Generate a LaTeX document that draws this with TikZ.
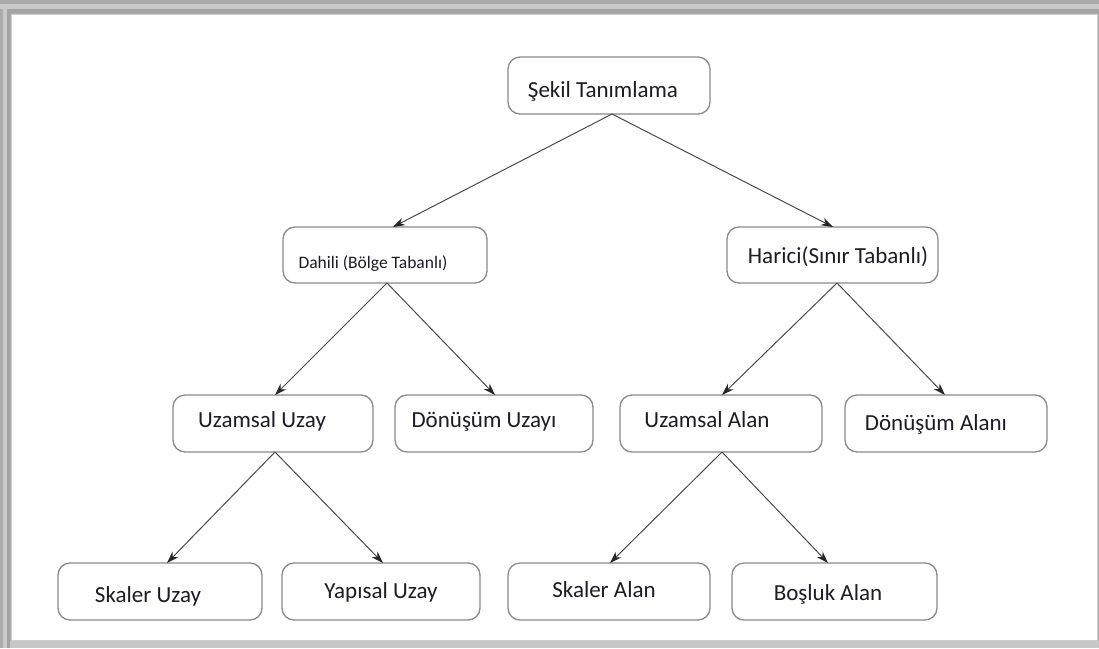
\documentclass[tikz,border=0pt]{standalone}
\usepackage{fontspec}
\setmainfont{Carlito}
\usetikzlibrary{arrows.meta}
\definecolor{boxline}{HTML}{8A8A8A}
\definecolor{arrowline}{HTML}{4A4A4A}
\definecolor{ink}{HTML}{1E1A28}
\definecolor{frameA}{HTML}{ABABAB}
\definecolor{frameB}{HTML}{C9C9C9}
\definecolor{frameC}{HTML}{A4A4A4}
\begin{document}
\begin{tikzpicture}[x=1pt,y=-1pt,
  box/.style={draw=boxline,line width=1.3pt,rounded corners=12pt,fill=white,
    inner sep=0pt,outer sep=0pt,minimum height=57pt},
  lbl/.style={anchor=base,text=ink,inner sep=0pt,font=\fontsize{23}{27}\selectfont},
  lblsmall/.style={lbl,font=\fontsize{17.5}{21}\selectfont},
  link/.style={draw=arrowline,line width=1pt,
    -{Stealth[length=12pt,width=8pt,color=black!85,fill=black!85]}}]
\useasboundingbox (0,0) rectangle (1099,648);
% frame with shaded edges
\fill[frameA] (0,0) rectangle (1099,648);
\fill[frameB] (0,4) rectangle (1099,9);
\fill[frameB] (3,4) rectangle (7,648);
\fill[frameC] (7,9) rectangle (1099,13);
\fill[frameC] (7,9) rectangle (10,648);
\fill[black!22] (10,641) rectangle (1099,648);
\fill[white] (11,14) rectangle (1097,640);
\draw[black!20,line width=0.8pt] (11,14) rectangle (1097,640);
% boxes
\node[box,minimum width=202pt] (sekil) at (609,85.5) {};
\node[box,minimum width=204pt,minimum height=56pt] (dahili) at (385,255) {};
\node[box,minimum width=211pt,minimum height=56pt] (harici) at (832.5,255) {};
\node[box,minimum width=200pt] (uzuzay) at (273,423.5) {};
\node[box,minimum width=198pt] (donuzay) at (494,423.5) {};
\node[box,minimum width=202pt] (uzalan) at (721,423.5) {};
\node[box,minimum width=202pt] (donalan) at (946,423.5) {};
\node[box,minimum width=204pt] (skuzay) at (160,591.5) {};
\node[box,minimum width=198pt] (yapuzay) at (381,591.5) {};
\node[box,minimum width=202pt] (skalan) at (609,591.5) {};
\node[box,minimum width=205pt] (bosalan) at (834.5,591.5) {};
% labels
\node[lbl] (tsekil) at (603,97) {Şekil Tanımlama};
\node[lblsmall] (tdahili) at (373,268) {Dahili (Bölge Tabanlı)};
\node[lbl] (tharici) at (838,263) {Harici(Sınır Tabanlı)};
\node[lbl] (tuzuzay) at (262,427) {Uzamsal Uzay};
\node[lbl] (tdonuzay) at (484,427) {Dönüşüm Uzayı};
\node[lbl] (tuzalan) at (707,427) {Uzamsal Alan};
\node[lbl] (tdonalan) at (936,430) {Dönüşüm Alanı};
\node[lbl] (tskuzay) at (148,602) {Skaler Uzay};
\node[lbl] (tyapuzay) at (381,598) {Yapısal Uzay};
\node[lbl] (tskalan) at (604,597) {Skaler Alan};
\node[lbl] (tbosalan) at (828,600) {Boşluk Alan};
% connectors
\draw[link] ([xshift=3pt]sekil.south) -- ([xshift=8pt]dahili.north);
\draw[link] ([xshift=3pt]sekil.south) -- ([xshift=0.5pt]harici.north);
\draw[link] ([xshift=2pt]dahili.south) -- ([xshift=2pt]uzuzay.north);
\draw[link] ([xshift=2pt]dahili.south) -- ([xshift=1pt]donuzay.north);
\draw[link] ([xshift=4.5pt]harici.south) -- ([xshift=1pt]uzalan.north);
\draw[link] ([xshift=4.5pt]harici.south) -- ([xshift=-1pt]donalan.north);
\draw[link] ([xshift=2pt]uzuzay.south) -- ([xshift=7pt]skuzay.north);
\draw[link] ([xshift=2pt]uzuzay.south) -- ([xshift=2pt]yapuzay.north);
\draw[link] ([xshift=1pt]uzalan.south) -- ([xshift=1pt]skalan.north);
\draw[link] ([xshift=1pt]uzalan.south) -- ([xshift=-6.5pt]bosalan.north);
\end{tikzpicture}
\end{document}
